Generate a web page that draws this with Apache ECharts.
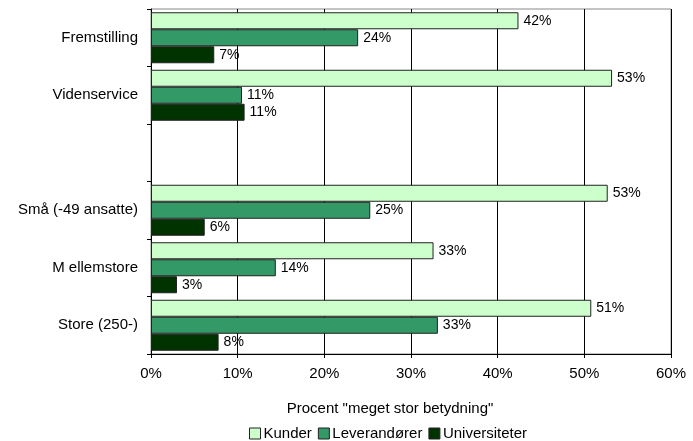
<!DOCTYPE html>
<html><head><meta charset="utf-8">
<script src="https://cdn.jsdelivr.net/npm/echarts@6/dist/echarts.min.js"></script>
<style>html,body{margin:0;padding:0;background:#fff}#c{width:693px;height:441px}</style>
</head><body><div id="c"></div>
<script>
const categories = ['Fremstilling', 'Videnservice', '', 'Små (-49 ansatte)', 'M ellemstore', 'Store (250-)'];
const kunder = [42.4, 53.2, null, 52.7, 32.6, 50.8];
const leverandorer = [23.9, 10.5, null, 25.3, 14.4, 33.1];
const universiteter = [7.3, 10.8, null, 6.2, 3.0, 7.8];
const xTicks = [0, 10, 20, 30, 40, 50, 60];
const seriesNames = ['Kunder', 'Leverandører', 'Universiteter'];
const colors = ['#CCFFCC', '#339966', '#003300'];
const axisTitle = 'Procent "meget stor betydning"';

const font = 'Liberation Sans, Arial, sans-serif';
const chart = echarts.init(document.getElementById('c'), null, {renderer: 'canvas'});
const mk = (name, data, color) => ({
  name, type: 'bar', data, barWidth: 17, barGap: '0%',
  itemStyle: {color, borderColor: '#222', borderWidth: 1},
  label: {show: true, position: 'right', distance: 5, color: '#000', fontFamily: font, fontSize: 14,
    formatter: p => p.value == null ? '' : Math.round(p.value) + '%'},
  animation: false
});
chart.setOption({
  animation: false,
  color: colors,
  grid: {left: 151, right: 22, top: 9, bottom: 87, show: true, borderColor: '#888', borderWidth: 1},
  title: {text: axisTitle, left: 390, top: 401, padding: 0, textAlign: 'center',
    textStyle: {fontFamily: font, fontSize: 15, fontWeight: 'normal', color: '#000'}},
  legend: {data: seriesNames, left: 249, top: 426, padding: 0, itemWidth: 11, itemHeight: 11, itemGap: 6,
    icon: 'rect', textStyle: {fontFamily: font, fontSize: 15, color: '#000', padding: [0, 0, 0, -2]},
    itemStyle: {borderColor: '#222', borderWidth: 1}},
  xAxis: {type: 'value', min: xTicks[0], max: xTicks[xTicks.length - 1], interval: 10,
    axisLine: {show: true, lineStyle: {color: '#000'}},
    axisTick: {show: true, length: 4, lineStyle: {color: '#000'}},
    splitLine: {show: true, lineStyle: {color: '#000', width: 1}},
    axisLabel: {formatter: v => v + '%', color: '#000', fontFamily: font, fontSize: 15, margin: 12}},
  yAxis: {type: 'category', data: categories, inverse: true,
    axisLine: {show: true, lineStyle: {color: '#000'}},
    axisTick: {show: true, length: 4, lineStyle: {color: '#000'}},
    axisLabel: {color: '#000', fontFamily: font, fontSize: 15, margin: 13}},
  series: [mk(seriesNames[0], kunder, colors[0]), mk(seriesNames[1], leverandorer, colors[1]), mk(seriesNames[2], universiteter, colors[2])]
});
</script></body></html>
